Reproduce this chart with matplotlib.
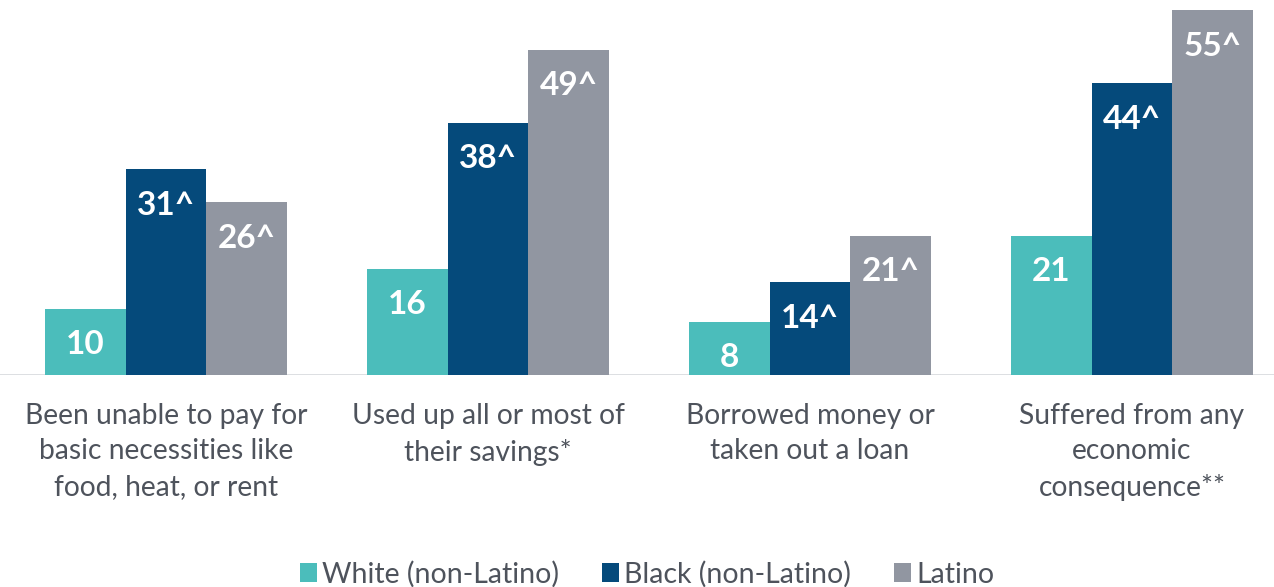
import matplotlib.pyplot as plt
import numpy as np
from matplotlib.patches import Patch

plt.rcParams.update({
    "font.family": ["Lato", "DejaVu Sans"],
})

categories = [
    "Been unable to pay for\nbasic necessities like\nfood, heat, or rent",
    "Used up all or most of\ntheir savings*",
    "Borrowed money or\ntaken out a loan",
    "Suffered from any\neconomic\nconsequence**",
]
series_names = ["White (non-Latino)", "Black (non-Latino)", "Latino"]
white = [10, 16, 8, 21]
black = [31, 38, 14, 44]
latino = [26, 49, 21, 55]
marks = [["", "", "", ""], ["^", "^", "^", "^"], ["^", "^", "^", "^"]]

colors = ["#4BBDBB", "#054A7B", "#9196A1"]
text_gray = "#4E535C"

fig = plt.figure(figsize=(12.74, 5.87), dpi=100)
ax = fig.add_axes([0, 0.3612, 1, 0.6388])

x = np.arange(len(categories))
w = 0.25
for i, (vals, c) in enumerate(zip([white, black, latino], colors)):
    pos = x + (i - 1) * w
    ax.bar(pos, vals, width=w, color=c, edgecolor="none", zorder=2)
    for p, v, m in zip(pos, vals, marks[i]):
        ax.annotate(f"{v}{m}", (p, v), xytext=(0, -26), textcoords="offset points",
                    ha="center", va="center", color="white", fontsize=24,
                    fontweight="bold")

for xi, lab in zip(x, categories):
    ax.annotate(lab, (xi, 0), xytext=(0, -20), textcoords="offset points",
                ha="center", va="top", color=text_gray, fontsize=20.3,
                linespacing=1.45)

ax.axhline(0, color="#D9DCDF", lw=2, zorder=1)
ax.set_xlim(-0.516, 3.441)
ax.set_ylim(0, 56.5)
ax.axis("off")

handles = [Patch(facecolor=c, edgecolor="none", label=n)
           for c, n in zip(colors, series_names)]
leg = fig.legend(handles=handles, loc="center", bbox_to_anchor=(0.508, 0.022),
                 ncol=3, frameon=False, fontsize=20.5, handlelength=0.6,
                 handleheight=0.6, handletextpad=0.18, columnspacing=1.5)
for t in leg.get_texts():
    t.set_color(text_gray)

fig.savefig("out.png", dpi=100)
